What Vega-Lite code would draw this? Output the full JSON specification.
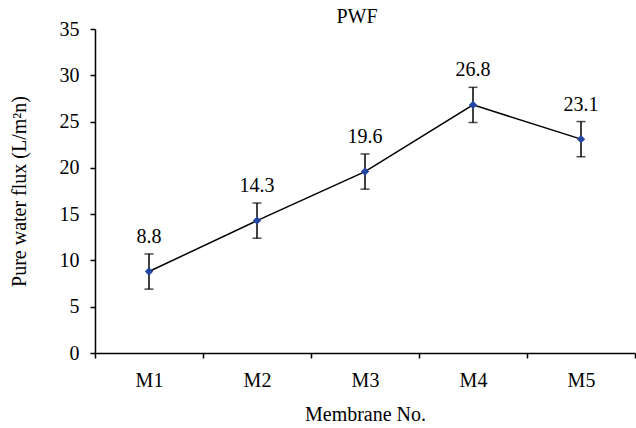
{
  "$schema": "https://vega.github.io/schema/vega-lite/v6.json",
  "width": 540,
  "height": 324,
  "autosize": "none",
  "padding": {"left": 95, "top": 29, "right": 1, "bottom": 75},
  "background": "white",
  "title": {"text": "PWF", "font": "Liberation Serif", "fontSize": 20, "fontWeight": "normal", "color": "black", "dx": -8, "baseline": "alphabetic", "offset": 0, "dy": 24},
  "config": {
    "view": {"stroke": null},
    "axis": {"labelFont": "Liberation Serif", "titleFont": "Liberation Serif", "labelFontSize": 20, "titleFontSize": 20, "titleFontWeight": "normal", "labelColor": "black", "titleColor": "black", "domainColor": "black", "tickColor": "black", "grid": false, "domainWidth": 1.5, "tickWidth": 1.5}
  },
  "data": {"values": [
    {"m": "M1", "v": 8.8, "lo": 6.9, "hi": 10.7, "lab": "8.8"},
    {"m": "M2", "v": 14.3, "lo": 12.4, "hi": 16.2, "lab": "14.3"},
    {"m": "M3", "v": 19.6, "lo": 17.7, "hi": 21.5, "lab": "19.6"},
    {"m": "M4", "v": 26.8, "lo": 24.9, "hi": 28.7, "lab": "26.8"},
    {"m": "M5", "v": 23.1, "lo": 21.2, "hi": 25.0, "lab": "23.1"}
  ]},
  "encoding": {
    "x": {"field": "m", "type": "nominal", "sort": null, "scale": {"paddingInner": 0, "paddingOuter": 0}, "axis": {"title": "Membrane No.", "labelAngle": 0, "labelPadding": 12, "titlePadding": 14, "tickSize": 5, "tickBand": "extent"}}
  },
  "layer": [
    {"mark": {"type": "line", "color": "black", "strokeWidth": 1.5},
     "encoding": {"y": {"field": "v", "type": "quantitative", "title": "Pure water flux (L/m²n)", "scale": {"domain": [0, 35]}, "axis": {"values": [0,5,10,15,20,25,30,35], "tickSize": 5, "labelPadding": 11, "titlePadding": 30}}}},
    {"mark": {"type": "errorbar", "ticks": {"size": 9, "color": "black", "thickness": 1.5}, "rule": {"color": "black", "strokeWidth": 1.5}},
     "encoding": {"y": {"field": "lo", "type": "quantitative", "title": "Pure water flux (L/m²n)"}, "y2": {"field": "hi"}}},
    {"mark": {"type": "point", "shape": "diamond", "filled": true, "color": "#2346A0", "size": 70, "opacity": 1},
     "encoding": {"y": {"field": "v", "type": "quantitative", "title": "Pure water flux (L/m²n)"}}},
    {"mark": {"type": "text", "font": "Liberation Serif", "fontSize": 20, "color": "black", "baseline": "bottom", "dy": -7},
     "encoding": {"y": {"field": "hi", "type": "quantitative", "title": "Pure water flux (L/m²n)"}, "text": {"field": "lab"}}}
  ]
}
